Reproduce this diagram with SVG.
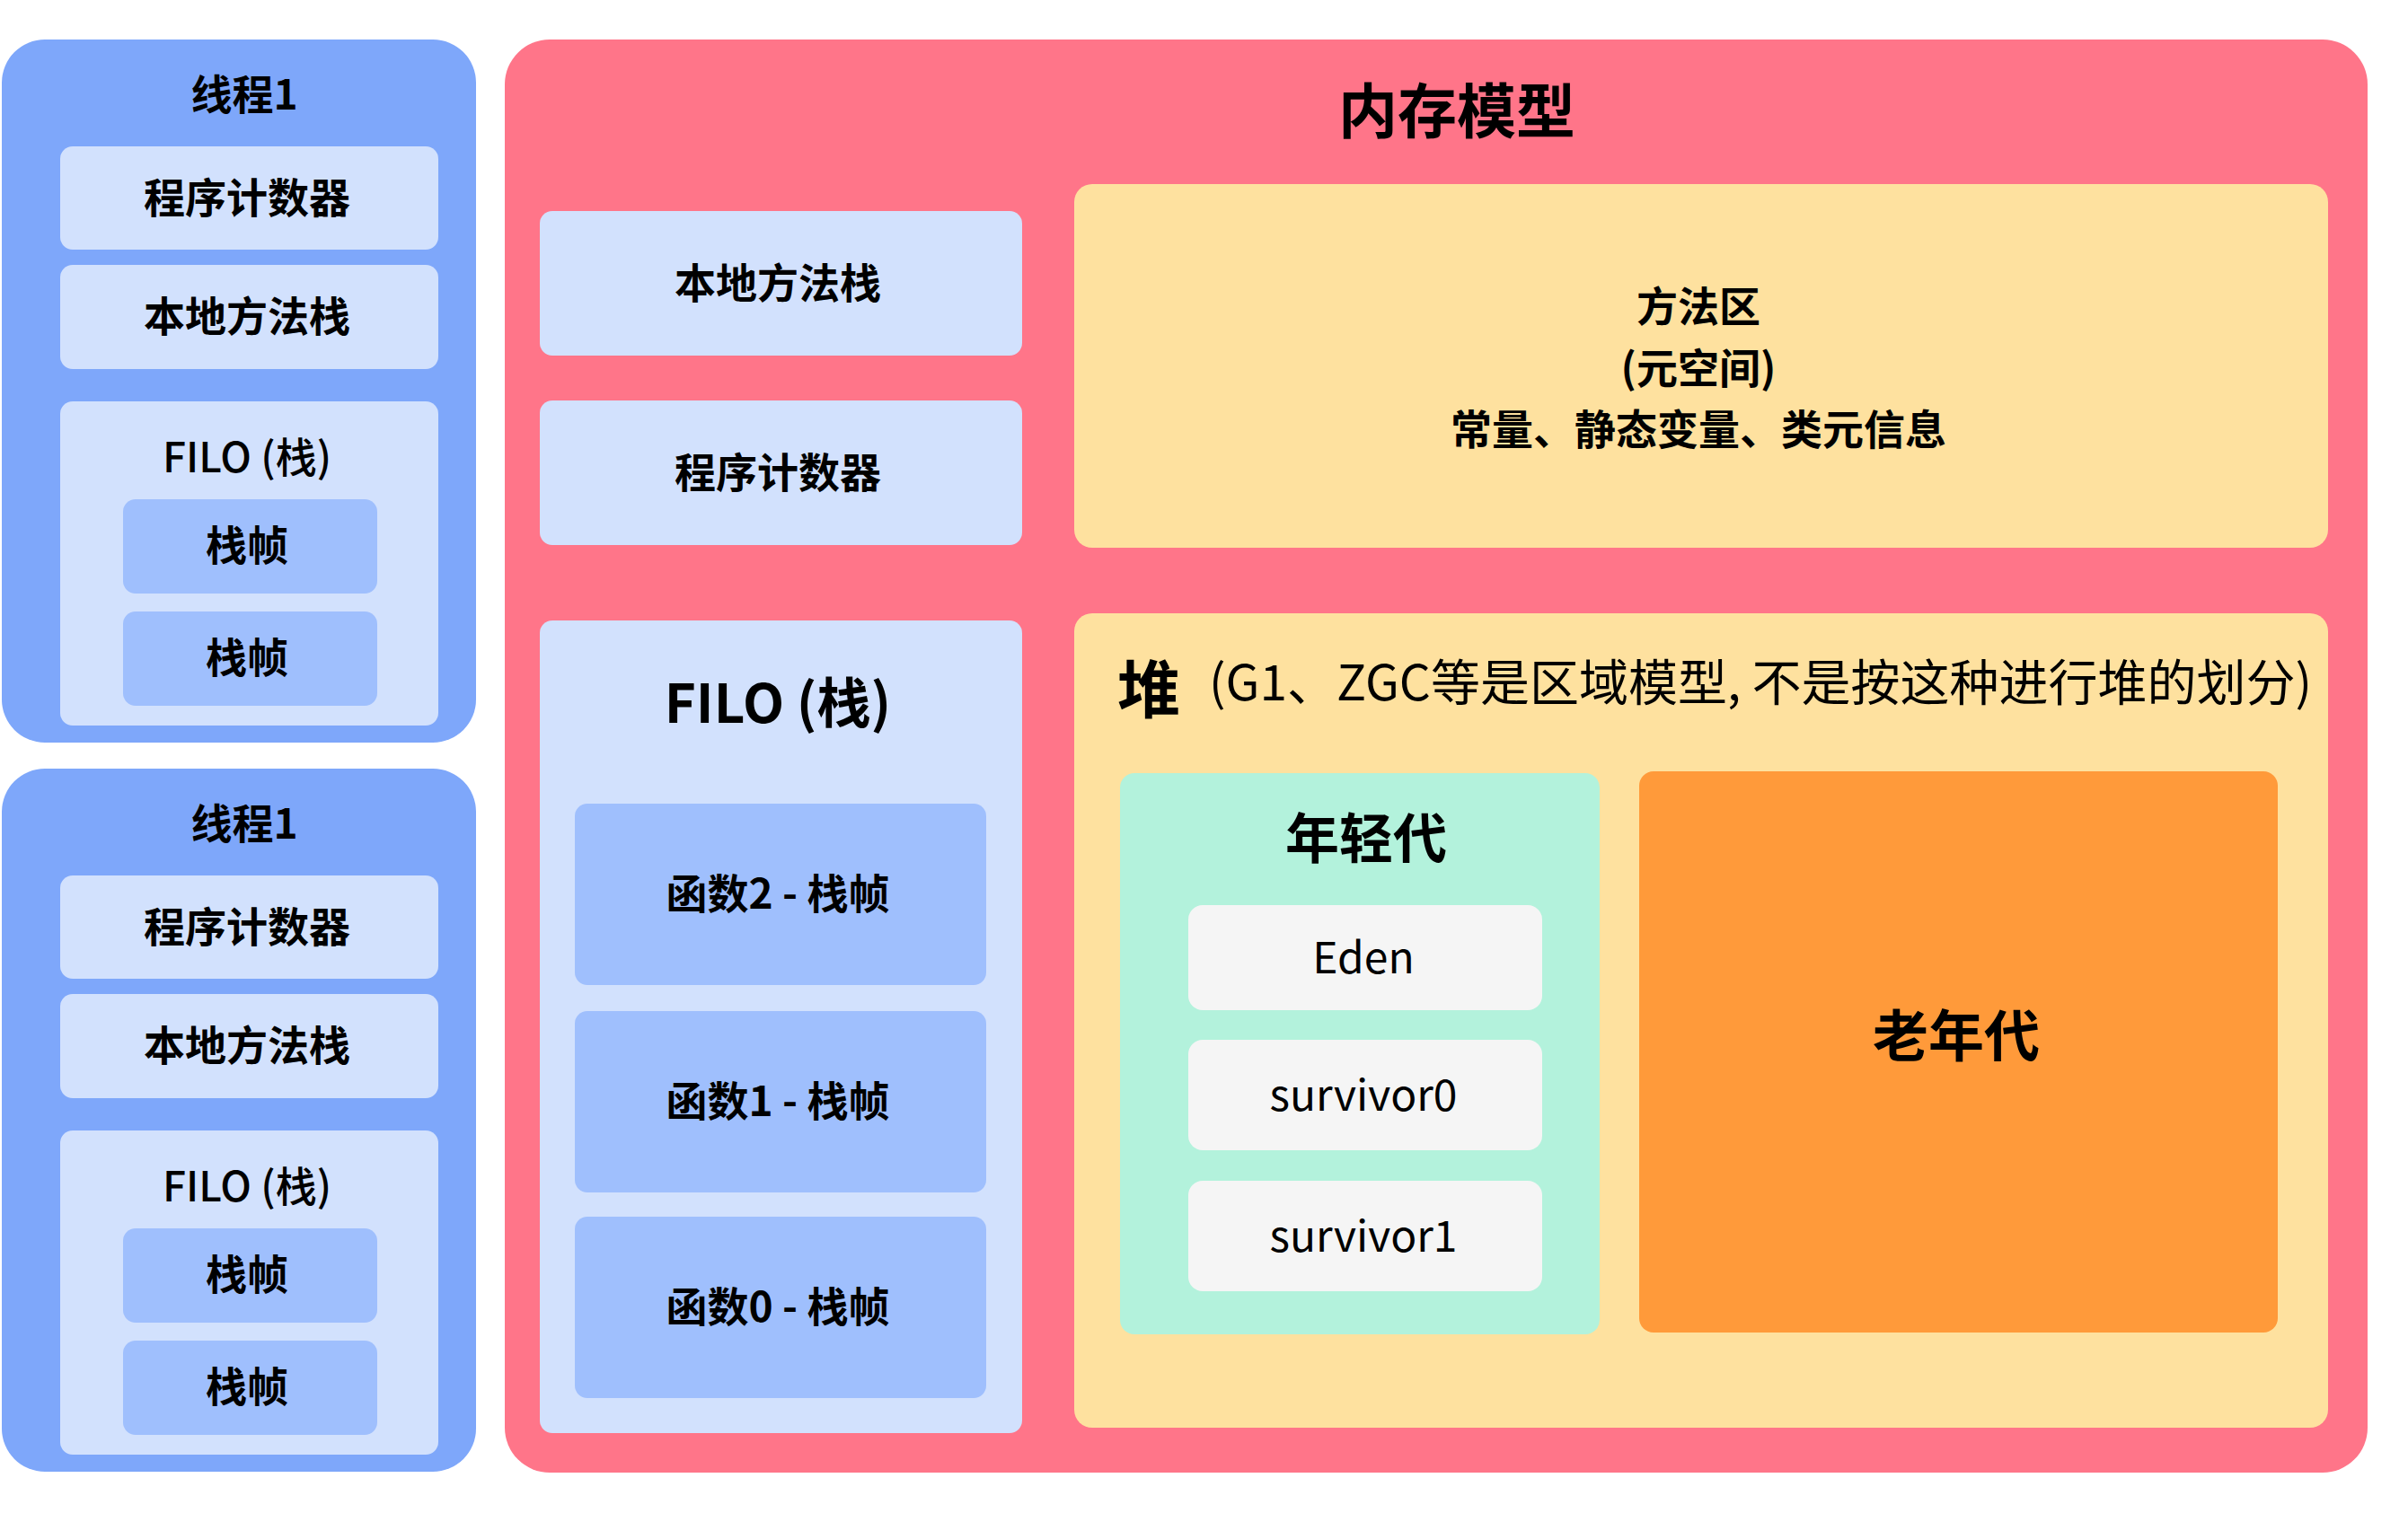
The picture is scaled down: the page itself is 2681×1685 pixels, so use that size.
<svg xmlns="http://www.w3.org/2000/svg" width="2681" height="1685" viewBox="0 0 2681 1685">
<style>
text{font-family:"Noto Sans CJK SC","Noto Sans",sans-serif;text-anchor:middle;dominant-baseline:central;fill:#000;transform:translateY(-4px)}
.b{font-weight:700}
.m{font-weight:500}
.thread{fill:#7ea7fa}
.lb{fill:#d2e1fd}
.fr{fill:#9fbffd}
</style>
<rect width="2681" height="1685" fill="#fff"/>
<g id="thread1">
<rect class="thread" x="2" y="44" width="528" height="783" rx="48"/>
<text class="b" x="272" y="106" font-size="46">线程1</text>
<rect class="lb" x="67" y="163" width="421" height="115" rx="14"/>
<text class="b" x="275" y="221" font-size="46">程序计数器</text>
<rect class="lb" x="67" y="295" width="421" height="116" rx="14"/>
<text class="b" x="275" y="353" font-size="46">本地方法栈</text>
<rect class="lb" x="67" y="447" width="421" height="361" rx="14"/>
<text class="m" x="275" y="510" font-size="46">FILO (栈)</text>
<rect class="fr" x="137" y="556" width="283" height="105" rx="14"/>
<text class="b" x="275" y="608" font-size="46">栈帧</text>
<rect class="fr" x="137" y="681" width="283" height="105" rx="14"/>
<text class="b" x="275" y="733" font-size="46">栈帧</text>
</g>
<g id="thread2" transform="translate(0,812)">
<rect class="thread" x="2" y="44" width="528" height="783" rx="48"/>
<text class="b" x="272" y="106" font-size="46">线程1</text>
<rect class="lb" x="67" y="163" width="421" height="115" rx="14"/>
<text class="b" x="275" y="221" font-size="46">程序计数器</text>
<rect class="lb" x="67" y="295" width="421" height="116" rx="14"/>
<text class="b" x="275" y="353" font-size="46">本地方法栈</text>
<rect class="lb" x="67" y="447" width="421" height="361" rx="14"/>
<text class="m" x="275" y="510" font-size="46">FILO (栈)</text>
<rect class="fr" x="137" y="556" width="283" height="105" rx="14"/>
<text class="b" x="275" y="608" font-size="46">栈帧</text>
<rect class="fr" x="137" y="681" width="283" height="105" rx="14"/>
<text class="b" x="275" y="733" font-size="46">栈帧</text>
</g>
<g id="memory">
<rect x="562" y="44" width="2074" height="1596" rx="50" fill="#ff7589"/>
<text class="b" x="1622" y="123" font-size="66">内存模型</text>
</g>
<g id="native">
<rect class="lb" x="601" y="235" width="537" height="161" rx="14"/>
<text class="b" x="866" y="316" font-size="46">本地方法栈</text>
</g>
<g id="pc">
<rect class="lb" x="601" y="446" width="537" height="161" rx="14"/>
<text class="b" x="866" y="527" font-size="46">程序计数器</text>
</g>
<g id="stack">
<rect class="lb" x="601" y="691" width="537" height="905" rx="14"/>
<text class="b" x="866" y="782" font-size="60">FILO (栈)</text>
<rect class="fr" x="640" y="895" width="458" height="202" rx="14"/>
<text class="b" x="866" y="996" font-size="46">函数2 - 栈帧</text>
<rect class="fr" x="640" y="1126" width="458" height="202" rx="14"/>
<text class="b" x="866" y="1227" font-size="46">函数1 - 栈帧</text>
<rect class="fr" x="640" y="1355" width="458" height="202" rx="14"/>
<text class="b" x="866" y="1456" font-size="46">函数0 - 栈帧</text>
</g>
<g id="method">
<rect x="1196" y="205" width="1396" height="405" rx="20" fill="#fee19f"/>
<text class="b" x="1891" y="342" font-size="46">方法区</text>
<text class="b" x="1891" y="411" font-size="46">(元空间)</text>
<text class="b" x="1891" y="479" font-size="46">常量、静态变量、类元信息</text>
</g>
<g id="heap">
<rect x="1196" y="683" width="1396" height="907" rx="20" fill="#fee19f"/>
<text class="b" x="1279" y="767" font-size="70">堆</text>
<text x="1346" y="760" font-size="55" style="text-anchor:start">(G1、ZGC等是区域模型, 不是按这种进行堆的划分)</text>
</g>
<g id="young">
<rect x="1247" y="861" width="534" height="625" rx="16" fill="#b3f2dc"/>
<text class="b" x="1521" y="933" font-size="60">年轻代</text>
<rect x="1323" y="1008" width="394" height="117" rx="16" fill="#f5f5f5"/>
<text x="1518" y="1067" font-size="48">Eden</text>
<rect x="1323" y="1158" width="394" height="123" rx="16" fill="#f5f5f5"/>
<text x="1518" y="1220" font-size="48">survivor0</text>
<rect x="1323" y="1315" width="394" height="123" rx="16" fill="#f5f5f5"/>
<text x="1518" y="1377" font-size="48">survivor1</text>
</g>
<g id="old">
<rect x="1825" y="859" width="711" height="625" rx="16" fill="#ff9a3a"/>
<text class="b" x="2178" y="1154" font-size="62">老年代</text>
</g>
<g id="connectors"/>
</svg>
